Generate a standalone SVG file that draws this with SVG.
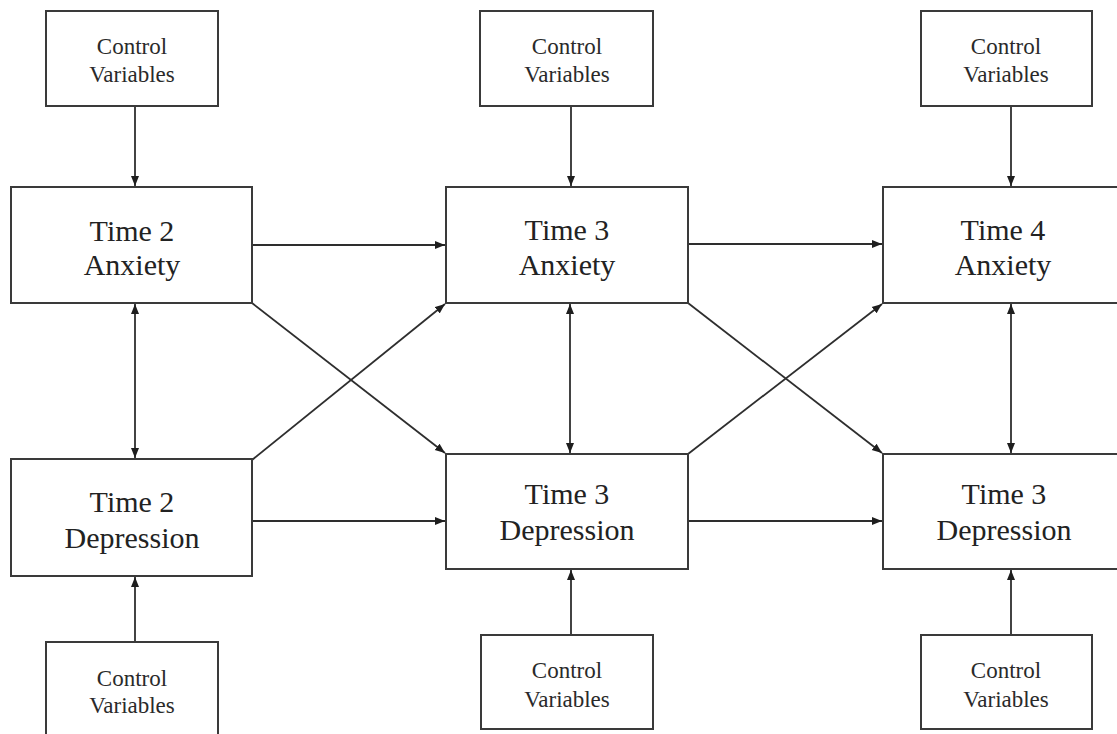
<svg xmlns="http://www.w3.org/2000/svg" width="1117" height="734" viewBox="0 0 1117 734">
<style>
.box{fill:#fff;stroke:#3a3a3a;stroke-width:2}
.ctl{font-family:"Liberation Serif","Times New Roman",serif;font-size:23px;fill:#2a2a2a;text-anchor:middle}
.main{font-family:"Liberation Serif","Times New Roman",serif;font-size:30px;fill:#222;text-anchor:middle}
.ln{stroke:#2e2e2e;stroke-width:1.8;fill:none;marker-end:url(#ah)}
.bi{marker-start:url(#ah)}
</style>
<defs>
<marker id="ah" markerUnits="userSpaceOnUse" markerWidth="11" markerHeight="9" refX="10" refY="4.5" orient="auto-start-reverse">
<path d="M0,0.5 L10,4.5 L0,8.5 z" fill="#1e1e1e"/>
</marker>
</defs>
<rect width="1117" height="734" fill="#fff"/>
<g id="connectors">
<line class="ln" x1="135" y1="106" x2="135" y2="186"/>
<line class="ln" x1="571" y1="106" x2="571" y2="186"/>
<line class="ln" x1="1011" y1="106" x2="1011" y2="186"/>
<line class="ln" x1="135" y1="642" x2="135" y2="577"/>
<line class="ln" x1="571" y1="635" x2="571" y2="570"/>
<line class="ln" x1="1011" y1="635" x2="1011" y2="570"/>
<line class="ln" x1="253" y1="245" x2="445" y2="245"/>
<line class="ln" x1="689" y1="244" x2="882" y2="244"/>
<line class="ln" x1="253" y1="521" x2="445" y2="521"/>
<line class="ln" x1="689" y1="521" x2="882" y2="521"/>
<line class="ln" x1="252" y1="303" x2="445" y2="453"/>
<line class="ln" x1="252" y1="460" x2="445" y2="304"/>
<line class="ln" x1="688" y1="303" x2="882" y2="453"/>
<line class="ln" x1="688" y1="454" x2="882" y2="304"/>
<line class="ln bi" x1="135" y1="304" x2="135" y2="458"/>
<line class="ln bi" x1="570" y1="304" x2="570" y2="453"/>
<line class="ln bi" x1="1011" y1="304" x2="1011" y2="453"/>
</g>
<g id="ctl-t2-top"><rect class="box" x="46" y="11" width="172" height="95"/><text class="ctl" x="132" y="54">Control</text><text class="ctl" x="132" y="82">Variables</text></g>
<g id="ctl-t3-top"><rect class="box" x="480" y="11" width="173" height="95"/><text class="ctl" x="567" y="54">Control</text><text class="ctl" x="567" y="82">Variables</text></g>
<g id="ctl-t4-top"><rect class="box" x="921" y="11" width="171" height="95"/><text class="ctl" x="1006" y="54">Control</text><text class="ctl" x="1006" y="82">Variables</text></g>
<g id="t2-anx"><rect class="box" x="11" y="187" width="241" height="116"/><text class="main" x="132" y="241">Time 2</text><text class="main" x="132" y="275">Anxiety</text></g>
<g id="t3-anx"><rect class="box" x="446" y="187" width="242" height="116"/><text class="main" x="567" y="240">Time 3</text><text class="main" x="567" y="275">Anxiety</text></g>
<g id="t4-anx"><rect class="box" x="883" y="187" width="242" height="116"/><text class="main" x="1003" y="240">Time 4</text><text class="main" x="1003" y="275">Anxiety</text></g>
<g id="t2-dep"><rect class="box" x="11" y="459" width="241" height="117"/><text class="main" x="132" y="512">Time 2</text><text class="main" x="132" y="548">Depression</text></g>
<g id="t3-dep"><rect class="box" x="446" y="454" width="242" height="115"/><text class="main" x="567" y="504">Time 3</text><text class="main" x="567" y="540">Depression</text></g>
<g id="t4-dep"><rect class="box" x="883" y="454" width="242" height="115"/><text class="main" x="1004" y="504">Time 3</text><text class="main" x="1004" y="540">Depression</text></g>
<g id="ctl-t2-bot"><rect class="box" x="46" y="642" width="172" height="100"/><text class="ctl" x="132" y="686">Control</text><text class="ctl" x="132" y="713">Variables</text></g>
<g id="ctl-t3-bot"><rect class="box" x="481" y="635" width="172" height="94"/><text class="ctl" x="567" y="678">Control</text><text class="ctl" x="567" y="707">Variables</text></g>
<g id="ctl-t4-bot"><rect class="box" x="921" y="635" width="171" height="94"/><text class="ctl" x="1006" y="678">Control</text><text class="ctl" x="1006" y="707">Variables</text></g>
</svg>
